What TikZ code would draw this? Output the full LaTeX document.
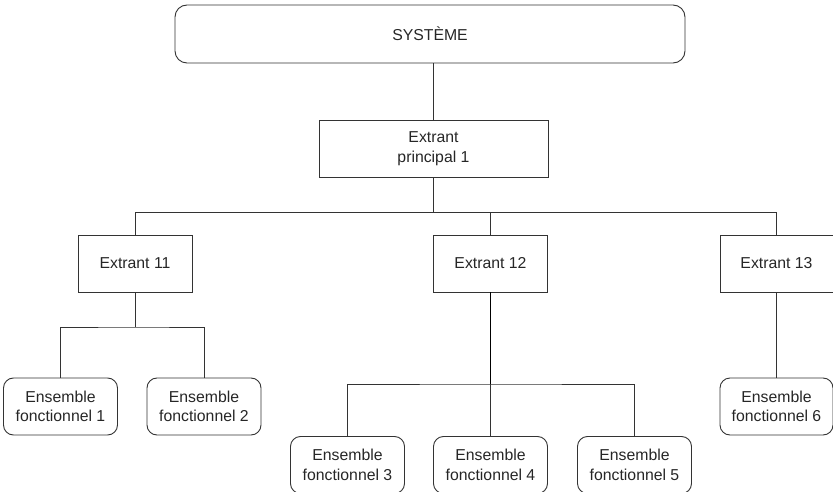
\documentclass[tikz,border=0pt]{standalone}
\usepackage{fontspec}
\setmainfont{Liberation Sans}
\begin{document}
\begin{tikzpicture}[x=1pt,y=-1pt,
  font=\fontsize{15.8}{19.5}\selectfont,
  box/.style={draw=black!80, line width=0.9pt, text=black!85, align=center, inner sep=0pt},
  sqbox/.style={box, minimum width=114pt, minimum height=57pt},
  rbox/.style={box, rounded corners=10pt, minimum width=114pt, minimum height=57pt},
  link/.style={draw=black!80, line width=0.9pt}]
\useasboundingbox (0,0) rectangle (833,492);
\node[box, rounded corners=12pt, minimum width=510pt, minimum height=58pt] (sys) at (430,34) {SYSTÈME};
\node[box, minimum width=229pt, minimum height=57pt] (ep) at (433.5,148.5) {Extrant\\principal 1};
\node[sqbox] (e11) at (135,263.5) {Extrant 11};
\node[sqbox] (e12) at (490.5,263.5) {Extrant 12};
\node[sqbox, minimum width=113pt] (e13) at (776.5,263.5) {Extrant 13};
\node[rbox] (f1) at (60.5,406.5) {Ensemble\\fonctionnel 1};
\node[rbox] (f2) at (204,406.5) {Ensemble\\fonctionnel 2};
\node[rbox] (f3) at (347.5,465) {Ensemble\\fonctionnel 3};
\node[rbox] (f4) at (490.5,465) {Ensemble\\fonctionnel 4};
\node[rbox] (f5) at (634.5,465) {Ensemble\\fonctionnel 5};
\node[rbox, minimum width=113pt] (f6) at (776.5,406.5) {Ensemble\\fonctionnel 6};
\coordinate (b1) at (433.5,212.5);
\coordinate (b11) at (135,327);
\coordinate (b12) at (490.5,384);
\draw[link] (ep.north) -- (ep.north |- sys.south);
\draw[link] (ep.south) -- (b1);
\draw[link] (e11.north) |- (b1) -| (e13.north);
\draw[link] (e12.north) -- (e12.north |- b1);
\draw[link] (e11.south) -- (b11);
\draw[link] (f1.north) |- (b11) -| (f2.north);
\draw[link, line width=1.4pt, draw=black] (e12.south) -- (b12);
\draw[link] (f3.north) |- (b12) -| (f5.north);
\draw[link] (f4.north) -- (b12);
\draw[link] (e13.south) -- (f6.north);
\end{tikzpicture}
\end{document}
